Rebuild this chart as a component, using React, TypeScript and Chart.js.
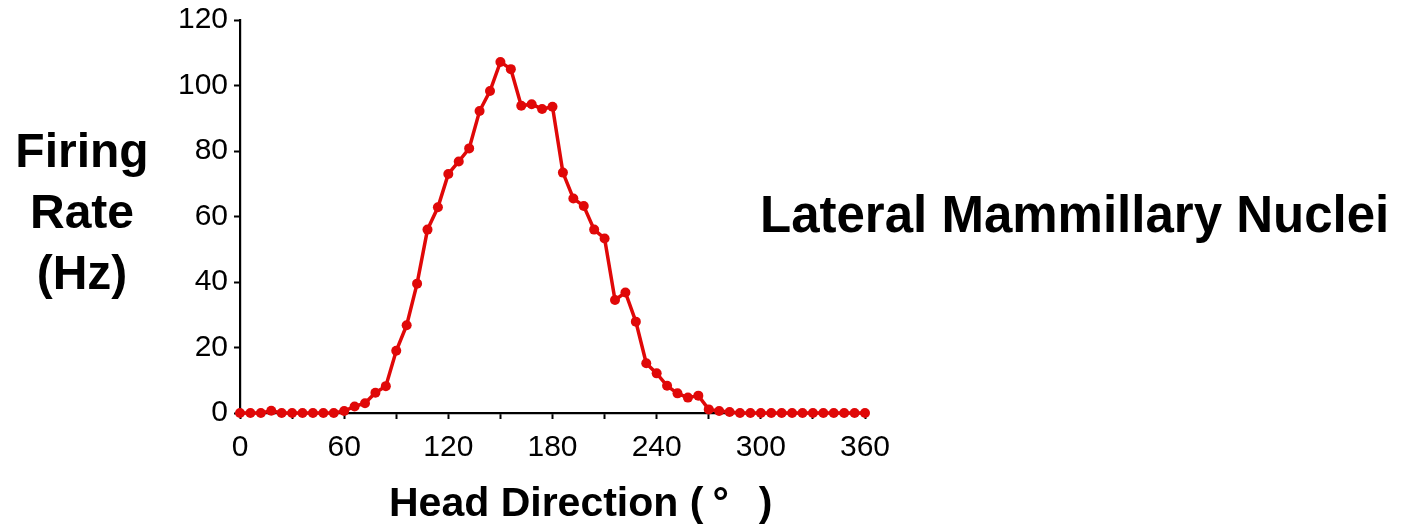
import React, { useEffect, useRef } from "react";
import { Chart, registerables } from "chart.js";

Chart.register(...registerables);

const directions: number[] = [
  0, 6, 12, 18, 24, 30, 36, 42, 48, 54,
  60, 66, 72, 78, 84, 90, 96, 102, 108, 114,
  120, 126, 132, 138, 144, 150, 156, 162, 168, 174,
  180, 186, 192, 198, 204, 210, 216, 222, 228, 234,
  240, 246, 252, 258, 264, 270, 276, 282, 288, 294,
  300, 306, 312, 318, 324, 330, 336, 342, 348, 354, 360,
];

const firingRate: number[] = [
  0, 0, 0, 0.7, 0, 0, 0, 0, 0, 0,
  0.6, 2, 3, 6.2, 8.2, 19, 26.8, 39.5, 56, 62.8,
  73, 76.8, 80.8, 92.2, 98.3, 107.2, 105, 93.8, 94.3, 92.8,
  93.5, 73.4, 65.5, 63.2, 56, 53.3, 34.5, 36.8, 27.9, 15.2,
  12.1, 8.3, 6, 4.7, 5.3, 1.1, 0.6, 0.3, 0, 0,
  0, 0, 0, 0, 0, 0, 0, 0, 0, 0, 0,
];

const xTickMarks: number[] = [0, 30, 60, 90, 120, 150, 180, 210, 240, 270, 300, 330, 360];
const xLabelTicks: number[] = [0, 60, 120, 180, 240, 300, 360];

const FONT = "'Liberation Sans', Arial, Helvetica, sans-serif";
const RED = "#e00808";

export default function App() {
  const canvasRef = useRef<HTMLCanvasElement | null>(null);

  useEffect(() => {
    if (!canvasRef.current) return;
    const chart = new Chart(canvasRef.current, {
      type: "line",
      data: {
        datasets: [
          {
            data: directions.map((d, i) => ({ x: d, y: firingRate[i] })),
            borderColor: RED,
            backgroundColor: RED,
            borderWidth: 3.5,
            pointRadius: 5,
            pointBorderWidth: 0,
            pointBackgroundColor: RED,
            tension: 0,
            clip: false as any,
          },
        ],
      },
      options: {
        responsive: false,
        animation: false,
        devicePixelRatio: 1,
        layout: { padding: { top: 20, right: 538, left: 0, bottom: 0 } },
        plugins: { legend: { display: false }, tooltip: { enabled: false } },
        scales: {
          x: {
            type: "linear",
            min: 0,
            max: 360,
            afterFit: (scale: any) => {
              scale.height = 113;
              scale.paddingLeft = 0;
              scale.paddingRight = 0;
            },
            afterBuildTicks: (scale: any) => {
              scale.ticks = xTickMarks.map((v) => ({ value: v }));
            },
            ticks: {
              autoSkip: false,
              maxRotation: 0,
              padding: 11,
              color: "#000",
              font: { family: FONT, size: 30 },
              callback: (v: any) => (xLabelTicks.includes(Number(v)) ? String(v) : ""),
            },
            grid: { drawOnChartArea: false, tickLength: 6, tickWidth: 2, color: "#000" },
            border: { display: true, color: "#000", width: 2.2 },
          },
          y: {
            type: "linear",
            min: 0,
            max: 120,
            afterFit: (scale: any) => {
              scale.width = 240;
              scale.paddingTop = 0;
              scale.paddingBottom = 0;
            },
            ticks: {
              stepSize: 20,
              padding: 6,
              color: "#000",
              font: { family: FONT, size: 30 },
            },
            grid: { drawOnChartArea: false, tickLength: 6, tickWidth: 2, color: "#000" },
            border: { display: true, color: "#000", width: 2.2 },
          },
        },
      },
    });
    return () => chart.destroy();
  }, []);

  const textBase: React.CSSProperties = {
    position: "absolute",
    fontFamily: FONT,
    fontWeight: "bold",
    color: "#000",
    whiteSpace: "pre",
  };

  return (
    <div style={{ position: "absolute", left: 0, top: 0, width: 1403, height: 526, background: "#fff" }}>
      <canvas ref={canvasRef} width={1403} height={526} style={{ position: "absolute", left: 0, top: 0 }} />
      <div
        style={{
          ...textBase,
          left: 0,
          top: 120,
          width: 164,
          textAlign: "center",
          fontSize: 48,
          lineHeight: "61px",
        }}
      >
        Firing{"\n"}Rate{"\n"}(Hz)
      </div>
      <div style={{ ...textBase, left: 760, top: 189, fontSize: 51, lineHeight: "51px" }}>
        Lateral Mammillary Nuclei
      </div>
      <div style={{ ...textBase, left: 389, top: 482, fontSize: 41, lineHeight: "41px" }}>
        Head Direction (<span style={{ display: "inline-block", width: 9 }} />°<span style={{ display: "inline-block", width: 30 }} />)
      </div>
    </div>
  );
}
